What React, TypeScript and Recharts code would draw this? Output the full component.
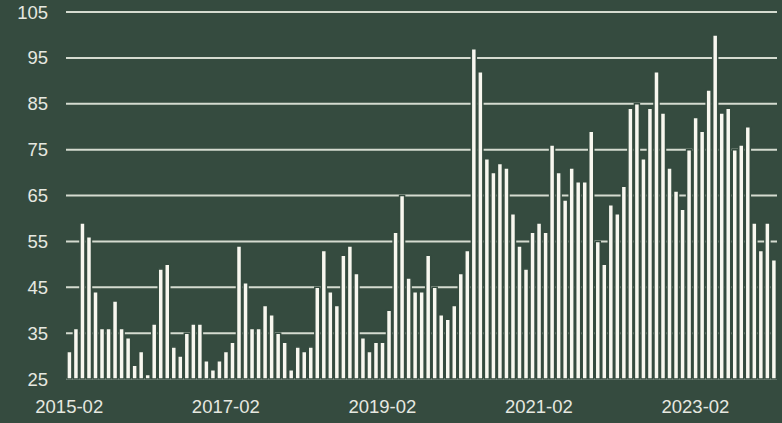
import React from "react";
import { BarChart, Bar, XAxis, YAxis, CartesianGrid } from "recharts";

const months: string[] = [
  "2015-02","2015-03","2015-04","2015-05","2015-06","2015-07","2015-08","2015-09","2015-10","2015-11","2015-12",
  "2016-01","2016-02","2016-03","2016-04","2016-05","2016-06","2016-07","2016-08","2016-09","2016-10","2016-11","2016-12",
  "2017-01","2017-02","2017-03","2017-04","2017-05","2017-06","2017-07","2017-08","2017-09","2017-10","2017-11","2017-12",
  "2018-01","2018-02","2018-03","2018-04","2018-05","2018-06","2018-07","2018-08","2018-09","2018-10","2018-11","2018-12",
  "2019-01","2019-02","2019-03","2019-04","2019-05","2019-06","2019-07","2019-08","2019-09","2019-10","2019-11","2019-12",
  "2020-01","2020-02","2020-03","2020-04","2020-05","2020-06","2020-07","2020-08","2020-09","2020-10","2020-11","2020-12",
  "2021-01","2021-02","2021-03","2021-04","2021-05","2021-06","2021-07","2021-08","2021-09","2021-10","2021-11","2021-12",
  "2022-01","2022-02","2022-03","2022-04","2022-05","2022-06","2022-07","2022-08","2022-09","2022-10","2022-11","2022-12",
  "2023-01","2023-02","2023-03","2023-04","2023-05","2023-06","2023-07","2023-08","2023-09","2023-10","2023-11","2023-12",
  "2024-01","2024-02",
];

const values: number[] = [
  31, 36, 59, 56, 44, 36, 36, 42, 36, 34,
  28, 31, 26, 37, 49, 50, 32, 30, 35, 37,
  37, 29, 27, 29, 31, 33, 54, 46, 36, 36,
  41, 39, 35, 33, 27, 32, 31, 32, 45, 53,
  44, 41, 52, 54, 48, 34, 31, 33, 33, 40,
  57, 65, 47, 44, 44, 52, 45, 39, 38, 41,
  48, 53, 97, 92, 73, 70, 72, 71, 61, 54,
  49, 57, 59, 57, 76, 70, 64, 71, 68, 68,
  79, 55, 50, 63, 61, 67, 84, 85, 73, 84,
  92, 83, 71, 66, 62, 75, 82, 79, 88, 100,
  83, 84, 75, 76, 80, 59, 53, 59, 51,
];

const yTicks: number[] = [25, 35, 45, 55, 65, 75, 85, 95, 105];

const data = months.map((m, i) => ({ month: m, value: values[i] }));

const BG = "#354b3f";
const BAR = "#f8f7ef";
const GRID = "#d5dbd0";
const TEXT = "#e6e8e0";
const FONT = "'Liberation Sans', Arial, sans-serif";

export default function App() {
  return (
    <div
      style={{
        position: "absolute",
        left: 0,
        top: 0,
        width: 782,
        height: 423,
        background: BG,
        fontFamily: FONT,
      }}
    >
      <BarChart
        width={782}
        height={423}
        data={data}
        margin={{ top: 12, right: 5, bottom: 14, left: 0 }}
        barCategoryGap="14%"
      >
        <CartesianGrid
          vertical={false}
          stroke={GRID}
          strokeWidth={2}
          strokeDasharray=""
        />
        <XAxis
          dataKey="month"
          interval={23}
          axisLine={false}
          tickLine={false}
          tickSize={6}
          tickMargin={15}
          height={30}
          tick={{ fill: TEXT, fontSize: 18.5, fontFamily: FONT }}
        />
        <YAxis
          domain={[25, 105]}
          ticks={yTicks}
          interval={0}
          axisLine={false}
          tickLine={false}
          tickSize={6}
          tickMargin={12}
          width={66}
          tick={{ fill: TEXT, fontSize: 18.5, fontFamily: FONT }}
        />
        <Bar
          dataKey="value"
          fill={BAR}
          stroke={BG}
          strokeWidth={1.5}
          isAnimationActive={false}
        />
      </BarChart>
    </div>
  );
}
